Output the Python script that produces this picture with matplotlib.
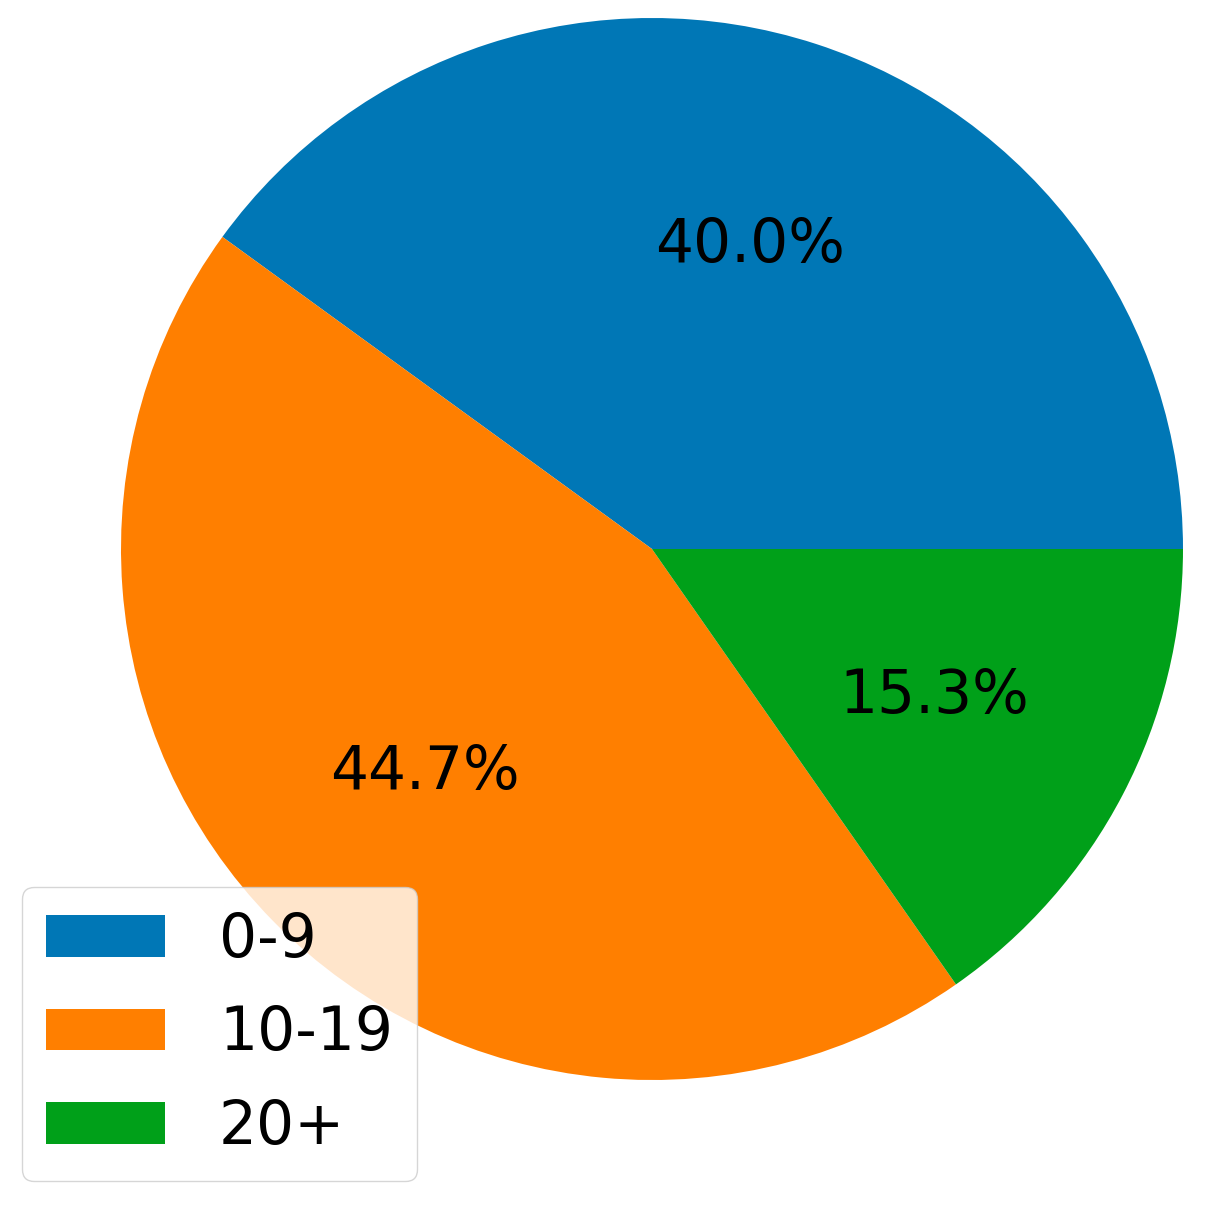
import matplotlib
matplotlib.use("Agg")
import matplotlib.pyplot as plt

categories = ["0-9", "10-19", "20+"]
shares = [40.0, 44.7, 15.3]
colors = ["#0077b6", "#ff7f00", "#00a019"]

W, H = 1208, 1217
fig = plt.figure(figsize=(W / 100, H / 100), dpi=100)
cx, cy, r = 652, 549, 531
ax = fig.add_axes([(cx - r) / W, 1 - (cy + r) / H, 2 * r / W, 2 * r / H])
wedges, texts, autotexts = ax.pie(shares, colors=colors, autopct="%1.1f%%",
                                  startangle=0, counterclock=True,
                                  textprops={"fontsize": 43}, radius=1.0)
ax.set_xlim(-1, 1)
ax.set_ylim(-1, 1)
ax.set_aspect("equal")
ax.axis("off")

leg = fig.legend(wedges, categories, loc="lower left",
                 bbox_to_anchor=(22 / W, 1 - 1181 / H), borderaxespad=0,
                 fontsize=43, frameon=True, fancybox=True, framealpha=0.8,
                 edgecolor="#cccccc", handlelength=2.0, handletextpad=0.9,
                 labelspacing=0.58)
fig.savefig("out.png", dpi=100)
